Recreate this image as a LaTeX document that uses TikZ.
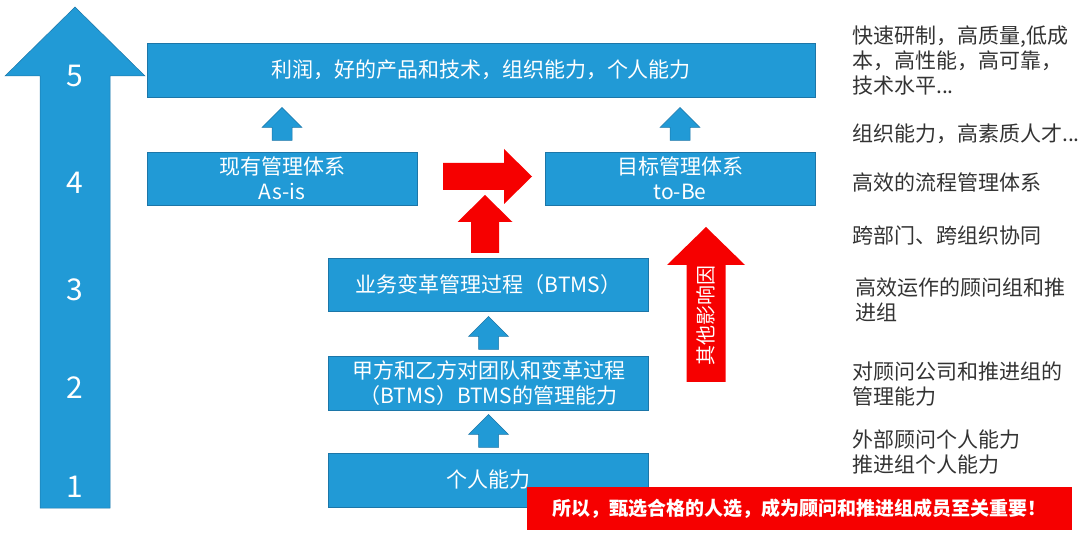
\documentclass[tikz,border=0pt]{standalone}
\usepackage{fontspec}
\setmainfont{Noto Sans CJK SC}
\usetikzlibrary{calc,positioning}

\definecolor{boxblue}{RGB}{33,154,214}
\definecolor{boxline}{RGB}{28,118,168}
\definecolor{alertred}{RGB}{246,0,0}

\begin{document}
\begin{tikzpicture}[
  x=1pt, y=-1pt,
  stage/.style={
    fill=boxblue,
    draw=boxline,
    line width=0.5pt,
    text=white,
    align=center,
    inner sep=0pt,
    font=\fontsize{21}{25}\selectfont
  },
  note/.style={
    anchor=west,
    align=left,
    inner sep=0pt,
    text=black!80,
    font=\fontsize{21}{25}\selectfont
  },
  level/.style={text=white, font=\fontsize{30}{30}\selectfont},
  bluestep/.pic={
    \path[fill=boxblue, draw=boxline, line width=0.5pt]
      (-10,16) -- (-10,3) -- (-20,3) -- (0,-17) -- (20,3) -- (10,3) -- (10,16) -- cycle;
  }
]
  \useasboundingbox (0,0) rectangle (1080,537);

  % Growth axis with the five levels
  \path[fill=boxblue, draw=boxline, line width=0.5pt]
    (40,508) -- (40,76) -- (5,76) -- (75,7) -- (145,76) -- (110,76) -- (110,508) -- cycle;
  \node[level] (L5) at (75,76)  {5};
  \node[level] (L4) at (75,183) {4};
  \node[level] (L3) at (75,290) {3};
  \node[level] (L2) at (75,388) {2};
  \node[level] (L1) at (75,487) {1};

  % Stages
  \node[stage, minimum width=668, minimum height=54] (goal) at (481,70)
    {利润，好的产品和技术，组织能力，个人能力};
  \node[stage, minimum width=270, minimum height=53] (asis) at (282,178.5)
    {现有管理体系\\As-is};
  \node[stage, minimum width=270, minimum height=53] (tobe) at (680,178.5)
    {目标管理体系\\to-Be};
  \node[stage, minimum width=320, minimum height=53] (btms) at (488.5,284.5)
    {业务变革管理过程（BTMS）};
  \node[stage, minimum width=320, minimum height=54] (mgmt) at (488.5,383)
    {甲方和乙方对团队和变革过程\\（BTMS）BTMS的管理能力};
  \node[stage, minimum width=320, minimum height=54] (person) at (488.5,480)
    {个人能力};

  % Blue steps between stages
  \pic at ($(asis.north)!.5!(asis.north|-goal.south)$) {bluestep};
  \pic at ($(tobe.north)!.5!(tobe.north|-goal.south)$) {bluestep};
  \pic at ($(mgmt.north)!.5!(mgmt.north|-btms.south)$) {bluestep};
  \pic at ($(person.north)!.5!(person.north|-mgmt.south)$) {bluestep};

  % Red arrows: transformation and other influences
  \fill[alertred] (443,163) -- (504,163) -- (504,149) -- (532,176.5)
    -- (504,204) -- (504,190) -- (443,190) -- cycle;
  \fill[alertred] (471,253) -- (471,222) -- (457.5,222) -- (485,195)
    -- (512.5,222) -- (499,222) -- (499,253) -- cycle;
  \fill[alertred] (686.5,382) -- (686.5,265) -- (667,265) -- (706,227)
    -- (745,265) -- (725.5,265) -- (725.5,382) -- cycle;
  \node[rotate=90, text=white, inner sep=0pt, font=\fontsize{20}{20}\selectfont]
    (other) at (706,316) {其他影响因};

  % Notes per level
  \node[note] (n5a) at (852,61)  {快速研制，高质量,低成\\本，高性能，高可靠，\\技术水平...};
  \node[note] (n5b) at (852,134) {组织能力，高素质人才...};
  \node[note] (n4a) at (852,183) {高效的流程管理体系};
  \node[note] (n4b) at (852,236) {跨部门、跨组织协同};
  \node[note] (n3)  at (855,300) {高效运作的顾问组和推\\进组};
  \node[note] (n2)  at (852,384) {对顾问公司和推进组的\\管理能力};
  \node[note] (n1)  at (852,452) {外部顾问个人能力\\推进组个人能力};

  % Conclusion banner
  \node[fill=alertred, text=white, inner sep=0pt, minimum width=545, minimum height=43,
    font=\fontsize{19}{19}\selectfont\bfseries] (banner) at (799.5,508.5)
    {所以，甄选合格的人选，成为顾问和推进组成员至关重要！};

\end{tikzpicture}
\end{document}
